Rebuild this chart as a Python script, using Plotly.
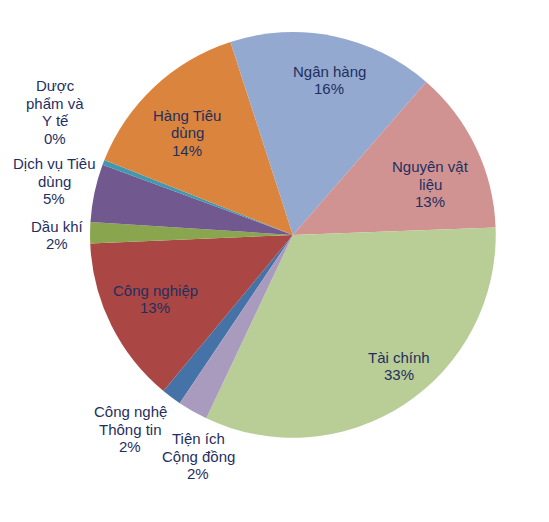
import plotly.graph_objects as go

W, H = 549, 522

# sectors in alphabetical order (as in the original sheet)
sectors = ["Công nghệ Thông tin", "Công nghiệp", "Dầu khí", "Dịch vụ Tiêu dùng",
           "Dược phẩm và Y tế", "Hàng Tiêu dùng", "Ngân hàng", "Nguyên vật liệu",
           "Tài chính", "Tiện ích Cộng đồng"]
label_lines = [["Công nghệ", "Thông tin"], ["Công nghiệp"], ["Dầu khí"], ["Dịch vụ Tiêu", "dùng"],
               ["Dược", "phẩm và", "Y tế"], ["Hàng Tiêu", "dùng"], ["Ngân hàng"], ["Nguyên vật", "liệu"],
               ["Tài chính"], ["Tiện ích", "Cộng đồng"]]
shares = [1.6, 13.3, 1.7, 4.6, 0.4, 14.0, 16.4, 13.0, 32.6, 2.4]
colors = ["#4572A7", "#AA4643", "#89A54E", "#71588F", "#4198AF",
          "#DB843D", "#93A9CF", "#D19392", "#B9CD96", "#A99BBD"]

# label centres in pixels (from top-left), one per sector
label_px = [(130, 429), (155, 299), (57, 235), (54, 181), (55, 112),
            (187, 133), (329, 80), (430, 184), (399, 366), (198, 456)]
line_gap = 17.5

total = sum(shares)

fig = go.Figure(go.Pie(
    labels=sectors,
    values=shares,
    textinfo="none",
    sort=False,
    direction="clockwise",
    rotation=213.9,
    marker=dict(colors=colors, line=dict(width=0)),
    domain=dict(x=[0.164, 0.903], y=[0.161, 0.939]),
    showlegend=False,
    hoverinfo="label+percent",
))

for lines, v, (px, py) in zip(label_lines, shares, label_px):
    rows = lines + [f"{round(v / total * 100)}%"]
    top = py - line_gap * (len(rows) - 1) / 2
    for i, row in enumerate(rows):
        fig.add_annotation(
            x=px / W, y=1 - (top + i * line_gap) / H, xref="paper", yref="paper",
            text=row, showarrow=False, xanchor="center", yanchor="middle",
            font=dict(family="Liberation Sans, Arial", size=15, color="#1F2F5F"),
        )

fig.update_layout(
    width=W, height=H,
    margin=dict(l=0, r=0, t=0, b=0),
    paper_bgcolor="white",
    plot_bgcolor="white",
)

fig.write_html("out.html", config={"displayModeBar": False},
               post_script="document.body.style.margin = '0px';")
